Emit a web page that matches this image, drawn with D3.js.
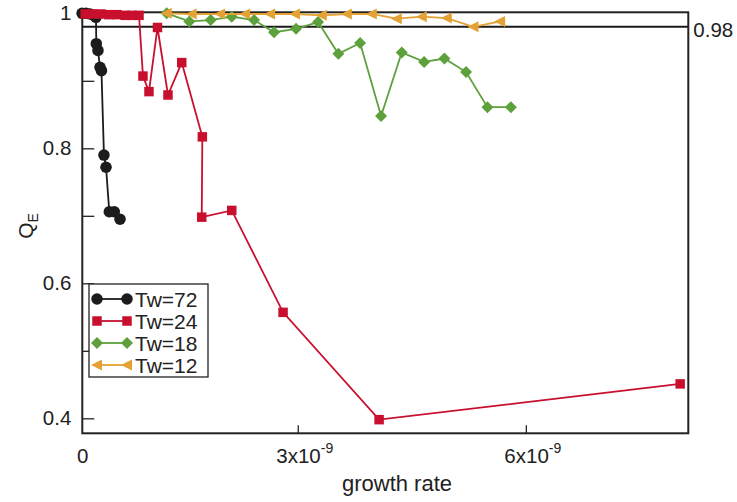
<!DOCTYPE html>
<html>
<head>
<meta charset="utf-8">
<script src="https://cdn.jsdelivr.net/npm/d3@7"></script>
<style>
  html, body { margin: 0; padding: 0; background: #fff; }
  svg { display: block; font-family: "Liberation Sans", Arial, Helvetica, sans-serif; }
</style>
</head>
<body>
<svg id="chart" width="737" height="502"></svg>
<script>
// ---- data (growth rate, Q_E) ----
const seriesNames = ["Tw=72", "Tw=24", "Tw=18", "Tw=12"];

const tw72X = [0.163e-9, 0.216e-9, 0.267e-9, 0.320e-9, 0.346e-9, 0.350e-9, 0.372e-9, 0.399e-9, 0.418e-9, 0.451e-9, 0.478e-9, 0.521e-9, 0.587e-9, 0.662e-9];
const tw72Y = [1.000, 1.000, 0.999, 0.997, 0.994, 0.955, 0.945, 0.920, 0.915, 0.790, 0.772, 0.706, 0.706, 0.695];

const tw24X = [0.204e-9, 0.307e-9, 0.412e-9, 0.517e-9, 0.622e-9, 0.728e-9, 0.820e-9, 0.912e-9, 0.964e-9, 1.043e-9, 1.155e-9, 1.293e-9, 1.474e-9, 1.745e-9, 1.737e-9, 2.132e-9, 2.807e-9, 4.070e-9, 8.030e-9];
const tw24Y = [0.999, 0.999, 0.999, 0.998, 0.998, 0.997, 0.997, 0.997, 0.907, 0.884, 0.979, 0.879, 0.927, 0.817, 0.698, 0.708, 0.557, 0.398, 0.451];

const tw18X = [1.276e-9, 1.574e-9, 1.855e-9, 2.132e-9, 2.425e-9, 2.688e-9, 2.978e-9, 3.267e-9, 3.534e-9, 3.820e-9, 4.096e-9, 4.368e-9, 4.662e-9, 4.929e-9, 5.214e-9, 5.495e-9, 5.803e-9];
const tw18Y = [1.000, 0.988, 0.990, 0.995, 0.990, 0.972, 0.977, 0.987, 0.940, 0.956, 0.848, 0.942, 0.928, 0.933, 0.913, 0.861, 0.861];

const tw12X = [1.276e-9, 1.605e-9, 1.978e-9, 2.307e-9, 2.636e-9, 2.964e-9, 3.316e-9, 3.645e-9, 3.974e-9, 4.303e-9, 4.632e-9, 4.961e-9, 5.311e-9, 5.662e-9];
const tw12Y = [1.000, 0.999, 0.999, 0.999, 0.999, 0.999, 0.997, 0.999, 0.999, 0.992, 0.995, 0.993, 0.980, 0.988];

const thresholdValue = 0.98;
const thresholdLabel = "0.98";

const xDomain = [0.166e-9, 8.137e-9];
const yDomain = [0.3778, 1.0015];
const xTickValues = [0.166e-9, 3e-9, 6e-9];
const xTickBase = ["0", "3x10", "6x10"];
const xTickSup = ["", "-9", "-9"];
const yTickValues = [0.4, 0.5, 0.6, 0.7, 0.8, 0.9, 1.0];
const yTickLabels = {"0.4": "0.4", "0.6": "0.6", "0.8": "0.8", "1": "1"};
const xTitle = "growth rate";
const yTitle = "Q";
const yTitleSub = "E";

// ---- layout ----
const L = 82.3, R = 688.3, T = 12.3, B = 433.3;
const colors = ["#1c1c1c", "#c8102e", "#5ca13c", "#e5a234"];

const svg = d3.select("#chart");
const x = d3.scaleLinear().domain(xDomain).range([L, R]);
const y = d3.scaleLinear().domain(yDomain).range([B, T]);

const series = [
  {name: seriesNames[0], xs: tw72X, ys: tw72Y},
  {name: seriesNames[1], xs: tw24X, ys: tw24Y},
  {name: seriesNames[2], xs: tw18X, ys: tw18Y},
  {name: seriesNames[3], xs: tw12X, ys: tw12Y}
].map((s, i) => ({...s, i, pts: s.xs.map((v, k) => [v, s.ys[k]])}));

function markerPath(i) {
  if (i === 0) return d3.symbol().type(d3.symbolCircle).size(104)();
  if (i === 1) return d3.symbol().type(d3.symbolSquare).size(90)();
  if (i === 2) return "M0,-6 L6,0 L0,6 L-6,0 Z";
  return "M-6,0 L5,-5.5 L5,5.5 Z";
}

// axes
const yAxis = d3.axisLeft(y).tickValues(yTickValues).tickSizeInner(-12).tickSizeOuter(0).tickPadding(11)
  .tickFormat(d => yTickLabels[String(+d.toFixed(1))] || "");
const gy = svg.append("g").attr("transform", `translate(${L},0)`).call(yAxis);
gy.select(".domain").remove();
gy.selectAll(".tick line").attr("stroke", "#222").attr("stroke-width", 1.3);
gy.selectAll(".tick text").attr("font-size", 20.5).attr("fill", "#222")
  .attr("font-family", "Liberation Sans, Arial, sans-serif");

const xAxis = d3.axisBottom(x).tickValues(xTickValues).tickSizeInner(-8).tickSizeOuter(0).tickFormat(() => "");
const gx = svg.append("g").attr("transform", `translate(0,${B})`).call(xAxis);
gx.select(".domain").remove();
gx.selectAll(".tick line").attr("stroke", "#222").attr("stroke-width", 1.3)
  .attr("display", (d, k) => k === 0 ? "none" : null);
gx.selectAll(".tick text").each(function(d, k) {
  const t = d3.select(this).text(null)
    .attr("font-size", 20.5).attr("fill", "#222")
    .attr("font-family", "Liberation Sans, Arial, sans-serif")
    .attr("y", 30).attr("dy", null);
  if (xTickSup[k]) {
    t.attr("text-anchor", "start").attr("x", -22);
    t.append("tspan").text(xTickBase[k]);
    t.append("tspan").text(xTickSup[k]).attr("font-size", 14).attr("dy", -10);
  } else {
    t.attr("text-anchor", "middle").attr("x", 0).text(xTickBase[k]);
  }
});

// threshold line
svg.append("line").attr("x1", L).attr("x2", R)
  .attr("y1", y(thresholdValue)).attr("y2", y(thresholdValue))
  .attr("stroke", "#1a1a1a").attr("stroke-width", 2);
svg.append("text").attr("x", R + 5).attr("y", y(thresholdValue) + 10)
  .attr("font-size", 20.5).attr("fill", "#222").text(thresholdLabel);

// frame
svg.append("rect").attr("x", L).attr("y", T).attr("width", R - L).attr("height", B - T)
  .attr("fill", "none").attr("stroke", "#222").attr("stroke-width", 2);

// series
const line = d3.line().x(d => x(d[0])).y(d => y(d[1]));
series.forEach(s => {
  const g = svg.append("g");
  g.append("path").attr("d", line(s.pts)).attr("fill", "none")
    .attr("stroke", colors[s.i]).attr("stroke-width", 1.8);
  g.selectAll("path.m").data(s.pts).join("path").attr("class", "m")
    .attr("transform", d => `translate(${x(d[0])},${y(d[1])})`)
    .attr("d", markerPath(s.i)).attr("fill", colors[s.i]);
});

// axis titles
svg.append("text").attr("x", 397).attr("y", 491).attr("text-anchor", "middle")
  .attr("font-size", 22).attr("fill", "#222").text(xTitle);
const yt = svg.append("text").attr("transform", "translate(33,226) rotate(-90)")
  .attr("text-anchor", "middle").attr("font-size", 21).attr("fill", "#222");
yt.append("tspan").text(yTitle);
yt.append("tspan").text(yTitleSub).attr("font-size", 14).attr("dy", 5);

// legend
const lg = svg.append("g");
lg.append("rect").attr("x", 89).attr("y", 284).attr("width", 119).attr("height", 93)
  .attr("fill", "#fff").attr("stroke", "#222").attr("stroke-width", 1.3);
series.forEach((s, k) => {
  const cy = 299 + k * 22;
  lg.append("line").attr("x1", 97).attr("x2", 127).attr("y1", cy).attr("y2", cy)
    .attr("stroke", colors[s.i]).attr("stroke-width", 1.8);
  [97, 127].forEach(cx => {
    lg.append("path").attr("transform", `translate(${cx},${cy})`)
      .attr("d", markerPath(s.i)).attr("fill", colors[s.i]);
  });
  lg.append("text").attr("x", 135).attr("y", cy + 7.5).attr("font-size", 21)
    .attr("fill", "#222").text(s.name);
});
</script>
</body>
</html>
